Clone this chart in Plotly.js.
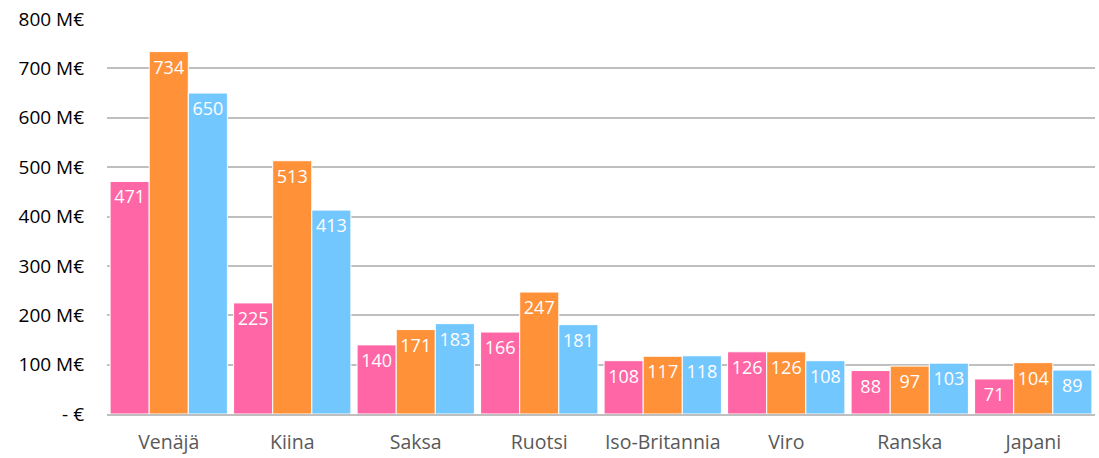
<!DOCTYPE html>
<html>
<head>
<meta charset="utf-8">
<script src="https://cdn.plot.ly/plotly-3.0.1.min.js"></script>
<style>html,body{margin:0;padding:0;background:#fff;}#chart{width:1099px;height:458px;}</style>
</head>
<body>
<div id="chart"></div>
<script>
const categories = ["Venäjä", "Kiina", "Saksa", "Ruotsi", "Iso-Britannia", "Viro", "Ranska", "Japani"];
const series1 = [471, 225, 140, 166, 108, 126, 88, 71];
const series2 = [734, 513, 171, 247, 117, 126, 97, 104];
const series3 = [650, 413, 183, 181, 118, 108, 103, 89];
const seriesNames = ["Sarja 1", "Sarja 2", "Sarja 3"];
const tickValues = [0, 100, 200, 300, 400, 500, 600, 700, 800];
const tickLabels = ["- €", "100 M€", "200 M€", "300 M€", "400 M€", "500 M€", "600 M€", "700 M€", "800 M€"];

const colors = ["#FF66A6", "#FF9138", "#73C7FF"];
const FONT = "'Open Sans', Lato, sans-serif";

const traces = [series1, series2, series3].map((vals, i) => ({
  type: "bar",
  name: seriesNames[i],
  x: categories,
  y: vals,
  text: vals.map(String),
  textposition: "inside",
  insidetextanchor: "end",
  textangle: 0,
  constraintext: "none",
  textfont: {family: FONT, size: 18, color: "#ffffff"},
  marker: {color: colors[i], line: {color: "#ffffff", width: 1}},
  hoverinfo: "x+y"
}));

const layout = {
  width: 1099,
  height: 458,
  margin: {l: 107, r: 4, t: 19, b: 44},
  paper_bgcolor: "#ffffff",
  plot_bgcolor: "#ffffff",
  showlegend: false,
  barmode: "group",
  bargap: 0.05,
  bargroupgap: 0,
  font: {family: FONT, size: 18, color: "#000000"},
  xaxis: {
    type: "category",
    tickfont: {family: FONT, size: 19.5, color: "#595959"},
    showgrid: false,
    showline: true,
    linecolor: "#BFBFBF",
    linewidth: 2,
    ticks: "",
    ticklabelstandoff: 10,
    fixedrange: true
  },
  yaxis: {
    range: [0, 800],
    tickvals: tickValues,
    ticktext: tickLabels,
    tickfont: {family: FONT, size: 19, color: "#000000"},
    showgrid: true,
    gridcolor: "#BFBFBF",
    gridwidth: 2,
    zeroline: false,
    showline: false,
    ticks: "",
    ticklabelstandoff: 22,
    fixedrange: true
  }
};

Plotly.newPlot("chart", traces, layout, {displayModeBar: false, staticPlot: true});
</script>
</body>
</html>
